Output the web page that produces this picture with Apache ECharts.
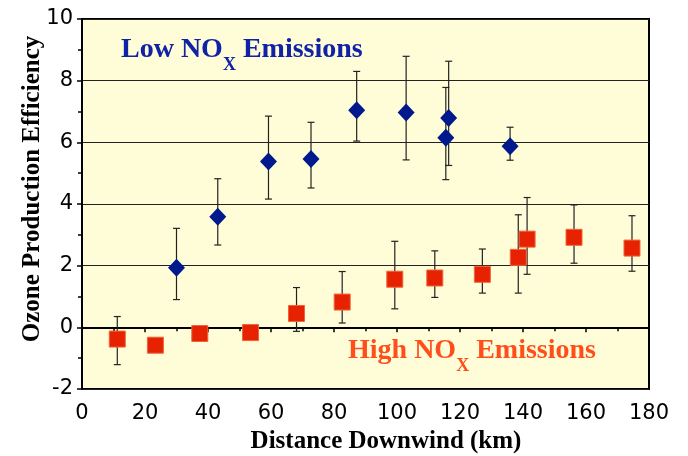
<!DOCTYPE html>
<html>
<head>
<meta charset="utf-8">
<script src="https://cdn.jsdelivr.net/npm/echarts@6/dist/echarts.min.js"></script>
<style>
  html, body { margin: 0; padding: 0; background: #ffffff; }
  #chart { width: 688px; height: 456px; }
</style>
</head>
<body>
<div id="chart"></div>
<script>
// Low NOx plumes: distance (km), efficiency, error bar upper / lower bounds
var lowX  = [30.0, 43.1, 59.2, 72.7, 87.2, 102.9, 116.4, 115.5, 135.9];
var lowY  = [1.93, 3.59, 5.38, 5.46, 7.04, 6.97, 6.79, 6.15, 5.87];
var lowHi = [3.21, 4.82, 6.85, 6.65, 8.30, 8.79, 8.63, 7.78, 6.49];
var lowLo = [0.90, 2.67, 4.16, 4.52, 6.04, 5.43, 5.25, 4.79, 5.42];

// High NOx plumes (null = no error bar drawn)
var highX  = [11.2, 23.3, 37.4, 53.5, 68.1, 82.6, 99.3, 112.0, 127.1, 138.5, 141.3, 156.2, 174.6];
var highY  = [-0.38, -0.58, -0.20, -0.17, 0.45, 0.82, 1.56, 1.60, 1.72, 2.27, 2.86, 2.92, 2.57];
var highHi = [0.35, null, null, null, 1.29, 1.81, 2.79, 2.48, 2.54, 3.65, 4.21, 3.97, 3.62];
var highLo = [-1.21, null, null, null, -0.13, 0.14, 0.60, 0.97, 1.11, 1.11, 1.72, 2.08, 1.82];

var xTicks = { min: 0, max: 180, interval: 20 };
var yTicks = { min: -2, max: 10, interval: 2 };

function points(xs, ys) {
  return xs.map(function (x, i) { return [x, ys[i]]; });
}
function bars(xs, hi, lo) {
  var out = [];
  xs.forEach(function (x, i) {
    if (hi[i] != null && lo[i] != null) out.push([x, lo[i], hi[i]]);
  });
  return out;
}

function renderErrorBar(params, api) {
  var x = api.value(0);
  var lo = api.coord([x, api.value(1)]);
  var hi = api.coord([x, api.value(2)]);
  var half = 3.5;
  var style = { stroke: '#222', lineWidth: 1.2 };
  return {
    type: 'group',
    children: [
      { type: 'line', shape: { x1: lo[0], y1: lo[1], x2: hi[0], y2: hi[1] }, style: style },
      { type: 'line', shape: { x1: hi[0] - half, y1: hi[1], x2: hi[0] + half, y2: hi[1] }, style: style },
      { type: 'line', shape: { x1: lo[0] - half, y1: lo[1], x2: lo[0] + half, y2: lo[1] }, style: style }
    ]
  };
}

var tickFont = { fontFamily: 'DejaVu Sans', fontSize: 21, color: '#000' };
var serifBold = 'Liberation Serif';

function emissionLabel(prefix, color, x, y) {
  return {
    type: 'text', x: x, y: y,
    style: {
      text: '{m|' + prefix + ' NO}{s|X}{m| Emissions}', fill: color,
      rich: {
        m: { fontFamily: serifBold, fontWeight: 'bold', fontSize: 28, lineHeight: 34, verticalAlign: 'top', fill: color },
        s: { fontFamily: serifBold, fontWeight: 'bold', fontSize: 18, lineHeight: 18, verticalAlign: 'top', padding: [20, 0, 0, 0], fill: color }
      }
    }
  };
}

var chart = echarts.init(document.getElementById('chart'), null, { renderer: 'canvas' });
chart.setOption({
  backgroundColor: '#ffffff',
  animation: false,
  grid: {
    left: 82, top: 19, right: 39, bottom: 67,
    show: true, backgroundColor: '#FFFDD8', borderColor: '#000', borderWidth: 2
  },
  xAxis: {
    type: 'value', min: xTicks.min, max: xTicks.max, interval: xTicks.interval,
    axisLine: { show: true, lineStyle: { color: '#000', width: 2 } },
    axisTick: { show: true, inside: false, length: 5, lineStyle: { color: '#000', width: 1.5 } },
    minorTick: { show: true, splitNumber: 2, length: 4, lineStyle: { color: '#000', width: 1.5 } },
    splitLine: { show: false },
    axisLabel: Object.assign({ margin: 14 }, tickFont)
  },
  yAxis: {
    type: 'value', min: yTicks.min, max: yTicks.max, interval: yTicks.interval,
    axisLine: { show: true, lineStyle: { color: '#000', width: 2 } },
    axisTick: { show: true, inside: false, length: 5, lineStyle: { color: '#000', width: 1.5 } },
    minorTick: { show: true, splitNumber: 2, length: 4, lineStyle: { color: '#000', width: 1.5 } },
    splitLine: { show: true, lineStyle: { color: '#222', width: 1.2 } },
    axisLabel: Object.assign({ margin: 9 }, tickFont)
  },
  graphic: [
    {
      type: 'text', x: 33, y: 189, rotation: Math.PI / 2,
      style: {
        text: 'Ozone Production Efficiency', align: 'center', verticalAlign: 'middle',
        font: 'bold 25px "' + serifBold + '"', fill: '#000'
      }
    },
    {
      type: 'text', x: 386, y: 442,
      style: {
        text: 'Distance Downwind (km)', align: 'center', verticalAlign: 'middle',
        font: 'bold 25px "' + serifBold + '"', fill: '#000'
      }
    },
    emissionLabel('Low', '#1022A6', 121, 36),
    emissionLabel('High', '#FF4E1C', 348, 337)
  ],
  series: [
    {
      name: 'Low NOx error', type: 'custom', renderItem: renderErrorBar,
      data: bars(lowX, lowHi, lowLo), encode: { x: 0, y: [1, 2] }, z: 2
    },
    {
      name: 'High NOx error', type: 'custom', renderItem: renderErrorBar,
      data: bars(highX, highHi, highLo), encode: { x: 0, y: [1, 2] }, z: 2
    },
    {
      name: 'Low NOx', type: 'scatter', symbol: 'diamond', symbolSize: [17, 18],
      itemStyle: { color: '#001A8E', opacity: 1 },
      data: points(lowX, lowY), z: 3
    },
    {
      name: 'High NOx', type: 'scatter', symbol: 'rect', symbolSize: 16,
      itemStyle: { color: '#E62200', borderColor: '#F0643C', borderWidth: 1, opacity: 1 },
      data: points(highX, highY), z: 3
    }
  ]
});
</script>
</body>
</html>
